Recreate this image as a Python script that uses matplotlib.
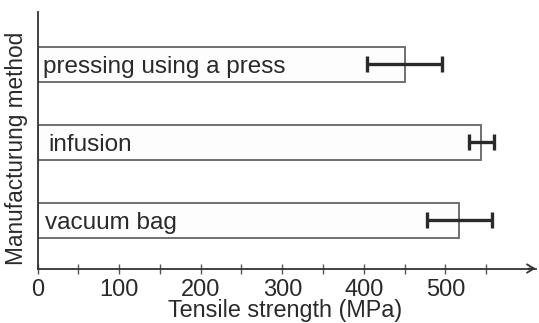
import matplotlib
matplotlib.use("Agg")
import matplotlib.pyplot as plt
import numpy as np

plt.rcParams['font.family'] = ['Liberation Sans', 'DejaVu Sans']

methods = ["vacuum bag", "infusion", "pressing using a press"]
strength = [517, 544, 450]
error = [40, 15, 46]
x_ticks = [0, 100, 200, 300, 400, 500]
x_label = "Tensile strength (MPa)"
y_label = "Manufacturung method"

label_offsets = [9, 13, 6.5]

W, H = 539, 323
fig = plt.figure(figsize=(W / 100, H / 100), dpi=100)
ax = fig.add_axes([37.5 / W, 1 - 268.5 / H, (536 - 37.5) / W, (268.5 - 12) / H])

ypos = np.arange(len(methods))
ax.barh(ypos, strength, height=0.45, left=0, color='#fdfdfd',
        edgecolor='#707070', linewidth=1.4, zorder=2)
ax.errorbar(strength, ypos, xerr=error, fmt='none', ecolor='#2a2a2a',
            elinewidth=2.4, capsize=6, capthick=2.4, zorder=3)
for y, name, off in zip(ypos, methods, label_offsets):
    ax.text(off, y, name, va='center_baseline', ha='left', fontsize=17.5,
            color='#2a2a2a', zorder=4)

ax.set_xlim(0, (536 - 37.5) / 0.816)
ax.set_ylim(-0.615, 2.67)
ax.set_xticks(x_ticks)
ax.set_xticklabels([str(t) for t in x_ticks])
ax.set_xticks(np.arange(50, 600, 50), minor=True)
ax.set_yticks([])
ax.tick_params(axis='x', which='both', direction='inout', length=7, width=1,
               color='#555555', labelsize=17, labelcolor='#2a2a2a', pad=4)
for s in ['top', 'right']:
    ax.spines[s].set_visible(False)
for s in ['left', 'bottom']:
    ax.spines[s].set_color('#333333')
    ax.spines[s].set_linewidth(1.3)

ax.annotate('', xy=(1.005, 0), xytext=(0.98, 0), xycoords='axes fraction',
            arrowprops=dict(arrowstyle='->,head_length=0.5,head_width=0.3',
                            color='#333333', lw=1.3), annotation_clip=False)

fig.text(285.5 / W, 1 - 317 / H, x_label, fontsize=16.8, color='#2a2a2a',
         ha='center', va='baseline')
fig.text(17 / W, 1 - 148 / H, y_label, fontsize=16.3, color='#2a2a2a',
         ha='center', va='center', rotation=90)

fig.savefig("out.png", dpi=100, facecolor='white')
